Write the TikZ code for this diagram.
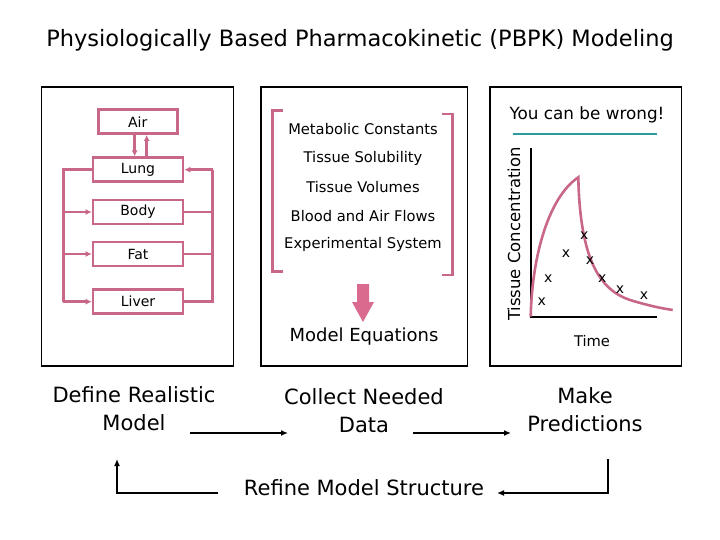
\documentclass[tikz,border=0pt]{standalone}
\usepackage{fontspec}
\setmainfont{DejaVu Sans}
\usetikzlibrary{arrows.meta}
\definecolor{organpink}{RGB}{200,103,138}
\definecolor{arrowpink}{RGB}{219,106,143}
\definecolor{wrongteal}{RGB}{42,154,154}

\begin{document}
\begin{tikzpicture}[x=1pt, y=-1pt,
		panel/.style={draw=black, line width=1.6pt},
		organ/.style={draw=organpink, line width=2.6pt, minimum width=90pt, minimum height=24pt, inner sep=0pt, font=\fontsize{14}{16}\selectfont},
		pinkline/.style={draw=organpink, line width=2.6pt},
		flow/.style={pinkline, -{Latex[length=6pt,width=6pt]}},
		param/.style={font=\fontsize{14.7}{16}\selectfont},
		datapt/.style={inner sep=0pt, font=\fontsize{14}{14}\selectfont},
		stage/.style={align=center, font=\fontsize{21}{28}\selectfont},
		steparrow/.style={line width=2.2pt, -{Latex[length=7pt,width=6pt]}}]
				% \draw[help lines] (0,0) grid (720,540);
				\useasboundingbox (0,0) rectangle (720,540);
				\node[font=\fontsize{22.5}{26}\selectfont] (title) at (360,40) {Physiologically Based Pharmacokinetic (PBPK) Modeling};

				\draw[panel] (41.3,87.3) rectangle (233.3,366);
				\draw[panel] (260.7,87.3) rectangle (467.3,366);
				\draw[panel] (489.7,87.3) rectangle (681.3,366);

				% compartments
				\node[organ, minimum width=79pt] (air) at (137.7,121.7) {Air};
				\node[organ] (lung) at (138,169.7) {Lung};
				\node[organ] (body) at (138,212) {Body};
				\node[organ] (fat) at (138,254) {Fat};
				\node[organ] (liver) at (138,301.7) {Liver};
				\coordinate (venous) at (63.3,0);
				\coordinate (arterial) at (212.7,0);

				\draw[flow] ([xshift=-3pt]air.south) -- ([xshift=-3pt]air.south |- lung.north);
				\draw[flow] ([xshift=9pt]air.south |- lung.north) -- ([xshift=9pt]air.south);
				\draw[pinkline] (lung.west) -- (lung.west -| venous) -- (liver.west -| venous);
				\foreach \o in {body,fat,liver}
					\draw[flow] (\o.west -| venous) -- (\o.west);
				\draw[pinkline] (liver.east) -- (liver.east -| arterial) -- (lung.east -| arterial);
				\foreach \o in {body,fat}
					\draw[pinkline] (\o.east) -- (\o.east -| arterial);
				\draw[flow] (lung.east -| arterial) -- (lung.east);

				% parameters
				\draw[pinkline] (283,110.8) -- (272.5,110.8) -- (272.5,271.5) -- (283,271.5);
				\draw[pinkline] (442,114) -- (452.5,114) -- (452.5,275) -- (442,275);
				\foreach \t/\y [count=\i] in {Metabolic Constants/129, Tissue Solubility/158, Tissue Volumes/187, Blood and Air Flows/216, Experimental System/244}
					\node[param] (p\i) at (363,\y) {\t};
				\node[font=\fontsize{18}{20}\selectfont] (eqs) at (364,337) {Model Equations};
				\fill[arrowpink] (357,284) -- (369,284) -- (369,302) -- (374,302) -- (363,322) -- (352,302) -- (357,302) -- cycle;

				% data vs model
				\node[font=\fontsize{16.8}{18}\selectfont] (wrong) at (587,115) {You can be wrong!};
				\draw[wrongteal, line width=2.4pt] (512.7,134.3) -- (656.7,134.3);
				\coordinate (origin) at (530.7,316.7);
				\draw[line width=2.4pt] (530.7,148.3) -- (origin) -- (656.7,316.7);
				\node[font=\fontsize{16.5}{18}\selectfont, rotate=90] (conc) at (514,234) {Tissue Concentration};
				\node[param] (time) at (592,341) {Time};
				\draw[pinkline] (origin) .. controls (532,255) and (549,197) .. (578.3,177.3)
					.. controls (580,260) and (600,290) .. (630,300)
					.. controls (650,306) and (660,308) .. (672.7,310);
				\foreach \px/\py [count=\i] in {541.7/301.7, 548.3/278.3, 566/254, 584.3/235.7, 590/260.7, 602.3/278.3, 620/290, 644/296}
					\node[datapt] (x\i) at (\px,\py) {x};

				% modeling cycle
				\node[stage] (define) at (134,409) {Define Realistic\\Model};
				\node[stage] (collect) at (364,411) {Collect Needed\\Data};
				\node[stage] (predict) at (585,409.5) {Make\\Predictions};
				\node[stage] (refine) at (364,488) {Refine Model Structure};
				\coordinate (d1) at (190,433);
				\coordinate (c1) at (288,433);
				\coordinate (c2) at (413,433);
				\coordinate (p1) at (511,433);
				\coordinate (p2) at (608,459);
				\coordinate (r1) at (497,493);
				\coordinate (r2) at (218,493);
				\coordinate (d2) at (117,459);
				\draw[steparrow] (d1) -- (c1);
				\draw[steparrow] (c2) -- (p1);
				\draw[steparrow] (p2) |- (r1);
				\draw[steparrow] (r2) -| (d2);
			\end{tikzpicture}
\end{document}
